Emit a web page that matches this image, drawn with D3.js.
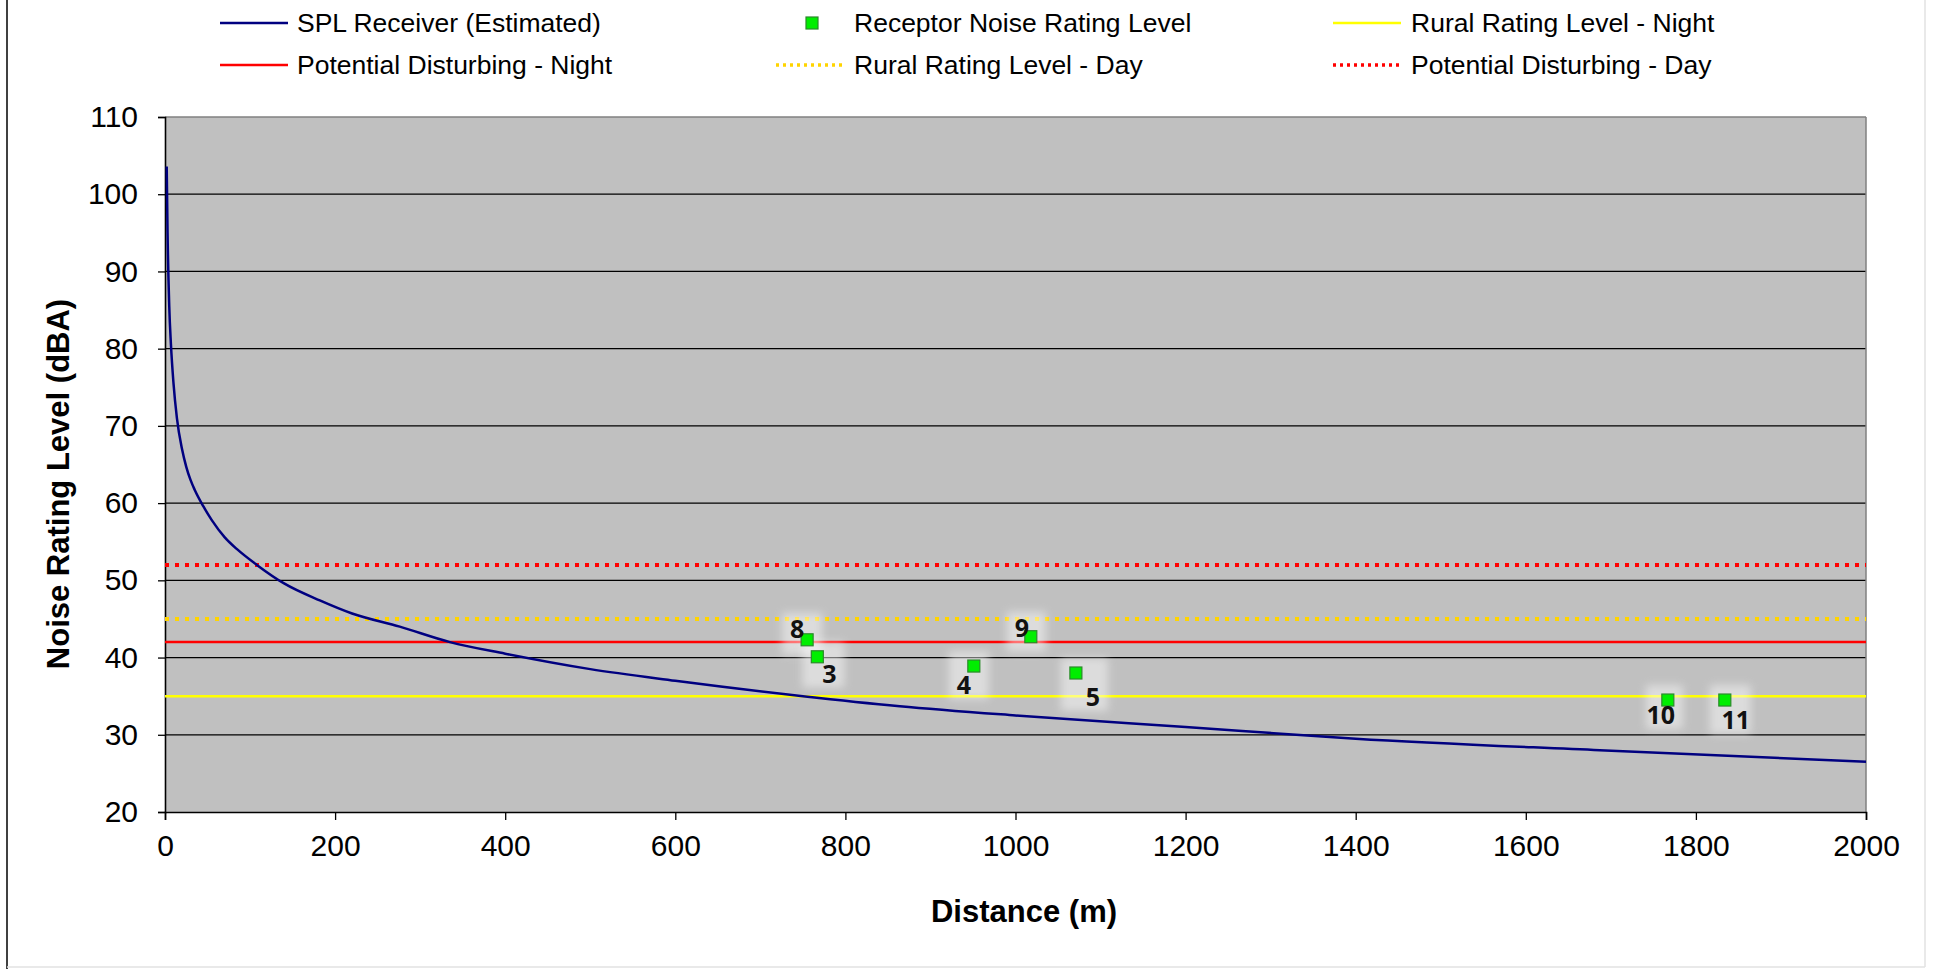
<!DOCTYPE html>
<html><head><meta charset="utf-8">
<script src="https://cdn.jsdelivr.net/npm/d3@7"></script>
<style>
html,body{margin:0;padding:0;background:#fff;}
svg{display:block;}
text{font-family:"Liberation Sans",Arial,sans-serif;}
</style></head>
<body>
<svg id="chart" width="1936" height="969"></svg>
<script>
// ---- data ----
const curveDistance = [2, 3, 5, 7, 10, 14, 20, 25, 30, 35, 45, 55, 70, 85, 108, 140, 182, 220, 276, 335, 400, 500, 600, 750, 864, 1000, 1200, 1400, 1687, 2000];
const curveLevel    = [103.6, 95, 85.5, 80.5, 75.5, 71, 67, 64.7, 63, 61.7, 59.6, 57.8, 55.6, 54, 52, 49.6, 47.4, 45.7, 44, 42, 40.5, 38.5, 37, 35, 33.7, 32.5, 31, 29.5, 28, 26.5];
const receptorIds      = ["8", "3", "4", "9", "5", "10", "11"];
const receptorDistance = [755, 767, 951, 1018, 1071, 1767, 1834];
const receptorLevel    = [42.3, 40.1, 38.9, 42.7, 38.0, 34.5, 34.5];
const ruralNight = 35, ruralDay = 45, disturbNight = 42, disturbDay = 52;
const xTicks = [0, 200, 400, 600, 800, 1000, 1200, 1400, 1600, 1800, 2000];
const yTicks = [20, 30, 40, 50, 60, 70, 80, 90, 100, 110];
const legendLabels = ["SPL Receiver (Estimated)", "Receptor Noise Rating Level", "Rural Rating Level - Night",
                      "Potential Disturbing - Night", "Rural Rating Level - Day", "Potential Disturbing - Day"];

// label placement relative to marker (style only)
const labelOffset = {"8":[-10,-12],"3":[12,16],"4":[-10,18],"9":[-9,-10],"5":[17,23],"10":[-7,14],"11":[11,19]};

const svg = d3.select("#chart");
const L = 165, R = 1866, T = 117, B = 812;
const x = d3.scaleLinear().domain([0, 2000]).range([L, R]);
const y = d3.scaleLinear().domain([20, 110]).range([B, T]);

// outer frame
svg.append("line").attr("x1",7).attr("x2",7).attr("y1",0).attr("y2",969).attr("stroke","#000").attr("stroke-width",1.5);
svg.append("line").attr("x1",1925).attr("x2",1925).attr("y1",0).attr("y2",967).attr("stroke","#e2e2e2").attr("stroke-width",1.5);
svg.append("line").attr("x1",7).attr("x2",1925).attr("y1",967).attr("y2",967).attr("stroke","#e2e2e2").attr("stroke-width",1.5);

// plot area
svg.append("rect").attr("x",L).attr("y",T).attr("width",R-L).attr("height",B-T).attr("fill","#c0c0c0");
// gridlines
svg.append("g").selectAll("line").data(yTicks.filter(d=>d>20 && d<110)).join("line")
  .attr("x1",L).attr("x2",R).attr("y1",d=>y(d)).attr("y2",d=>y(d))
  .attr("stroke","#000").attr("stroke-width",1.3);
svg.append("line").attr("x1",L).attr("x2",R).attr("y1",T).attr("y2",T).attr("stroke","#808080").attr("stroke-width",1.5);
svg.append("line").attr("x1",R).attr("x2",R).attr("y1",T).attr("y2",B).attr("stroke","#808080").attr("stroke-width",1.5);

// axes
const yAxis = d3.axisLeft(y).tickValues(yTicks).tickSize(7).tickPadding(20).tickFormat(d3.format("d"));
const gy = svg.append("g").attr("transform",`translate(${L},0)`).call(yAxis);
const xAxis = d3.axisBottom(x).tickValues(xTicks).tickSize(8).tickPadding(15).tickFormat(d3.format("d"));
const gx = svg.append("g").attr("transform",`translate(0,${B})`).call(xAxis);
[gx, gy].forEach(g=>{
  g.select(".domain").attr("stroke","#000").attr("stroke-width",1.6);
  g.selectAll(".tick line").attr("stroke","#000").attr("stroke-width",1.3);
  g.selectAll(".tick text").attr("fill","#000").style("font-size","30px").style("font-family","'Liberation Sans',Arial,sans-serif");
});

// horizontal reference lines
function hline(v, color, dash, w){
  const l = svg.append("line").attr("x1",x(0)).attr("x2",x(2000)).attr("y1",y(v)).attr("y2",y(v))
    .attr("stroke",color).attr("stroke-width",w);
  if(dash) l.attr("stroke-dasharray",dash);
}
hline(disturbDay, "#ff0000", "4,6", 4);
hline(ruralDay, "#ffd400", "4,6", 4);
hline(disturbNight, "#ff0000", null, 2.5);
hline(ruralNight, "#ffff00", null, 2.5);

// SPL curve
const curvePts = curveDistance.map((d,i)=>[d, curveLevel[i]]);
svg.append("path").datum(curvePts)
  .attr("d", d3.line().x(d=>x(d[0])).y(d=>y(d[1])).curve(d3.curveMonotoneX))
  .attr("fill","none").attr("stroke","#000080").attr("stroke-width",2.5);

// receptors
const rec = receptorIds.map((id,i)=>({id, d:receptorDistance[i], v:receptorLevel[i]}));
const defs = svg.append("defs");
const f = defs.append("filter").attr("id","glow").attr("x","-50%").attr("y","-50%").attr("width","200%").attr("height","200%");
f.append("feGaussianBlur").attr("stdDeviation",4);
const rg = svg.append("g");
rec.forEach(r=>{
  const [dx,dy] = labelOffset[r.id];
  rg.append("rect").attr("x",x(r.d)+Math.min(dx,0)-15).attr("y",y(r.v)+Math.min(dy,0)-15)
    .attr("width",Math.abs(dx)+30).attr("height",Math.abs(dy)+30)
    .attr("fill","#ffffff").attr("opacity",0.45).attr("filter","url(#glow)");
});
rg.selectAll("rect.m").data(rec).join("rect").attr("class","m")
  .attr("x",d=>x(d.d)-6).attr("y",d=>y(d.v)-6).attr("width",12).attr("height",12)
  .attr("fill","#00ee00").attr("stroke","#2a8a2a").attr("stroke-width",1.2);
rg.selectAll("text").data(rec).join("text")
  .attr("x",d=>x(d.d)+labelOffset[d.id][0]).attr("y",d=>y(d.v)+labelOffset[d.id][1])
  .attr("text-anchor","middle").attr("dominant-baseline","central")
  .style("font-family","'Open Sans','Noto Sans',sans-serif").style("font-weight","bold").style("font-size","25px")
  .attr("fill","#111").text(d=>d.id);

// axis titles
svg.append("text").attr("x",1024).attr("y",922).attr("text-anchor","middle")
  .style("font-weight","bold").style("font-size","31px").attr("fill","#000").text("Distance  (m)");
svg.append("text").attr("transform","translate(69,484) rotate(-90)").attr("text-anchor","middle")
  .style("font-weight","bold").style("font-size","31px").attr("fill","#000").text("Noise Rating Level (dBA)");

// legend
const leg = svg.append("g");
const legItems = [
  {t:legendLabels[0], type:"line", color:"#000080", dash:null, lx:220, tx:297, y:23},
  {t:legendLabels[1], type:"marker", lx:812, tx:854, y:23},
  {t:legendLabels[2], type:"line", color:"#ffff00", dash:null, lx:1333, tx:1411, y:23},
  {t:legendLabels[3], type:"line", color:"#ff0000", dash:null, lx:220, tx:297, y:65},
  {t:legendLabels[4], type:"line", color:"#ffd400", dash:"3,4", lx:776, tx:854, y:65},
  {t:legendLabels[5], type:"line", color:"#ff0000", dash:"3,4", lx:1333, tx:1411, y:65},
];
legItems.forEach(it=>{
  if(it.type==="line"){
    const l = leg.append("line").attr("x1",it.lx).attr("x2",it.lx+68).attr("y1",it.y).attr("y2",it.y)
      .attr("stroke",it.color).attr("stroke-width",it.dash?3.5:2.5);
    if(it.dash) l.attr("stroke-dasharray",it.dash);
  } else {
    leg.append("rect").attr("x",it.lx-6).attr("y",it.y-6).attr("width",12).attr("height",12)
      .attr("fill","#00ee00").attr("stroke","#2a8a2a").attr("stroke-width",1.2);
  }
  leg.append("text").attr("x",it.tx).attr("y",it.y).attr("dominant-baseline","central")
    .style("font-size","26.5px").attr("fill","#000").text(it.t);
});
</script>
</body></html>
